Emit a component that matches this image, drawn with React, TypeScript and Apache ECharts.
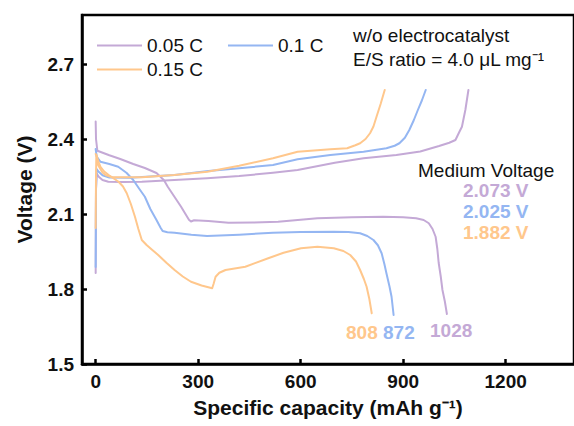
import React, { useEffect, useRef } from "react";
import * as echarts from "echarts";

const FONT = "'Liberation Sans', Arial, Helvetica, sans-serif";

const PURPLE = "#C4A9D6";
const BLUE = "#94B6F2";
const ORANGE = "#FFC78C";

const rateNames = ["0.05 C", "0.1 C", "0.15 C"];
const xTicks = [0, 300, 600, 900, 1200];
const yTicks = [1.5, 1.8, 2.1, 2.4, 2.7];
const capacityLabels = ["808", "872", "1028"];
const mediumVoltages = ["2.073 V", "2.025 V", "1.882 V"];

// [specific capacity (mAh g^-1), voltage (V)]
const discharge005 = [
  [0, 2.47], [1, 2.4], [5, 2.353], [40, 2.335], [72, 2.32], [110, 2.3], [144, 2.284], [178, 2.264],
  [200, 2.235], [211, 2.209], [230, 2.17], [250, 2.129], [265, 2.095], [273, 2.077], [279, 2.07],
  [288, 2.075], [330, 2.072], [389, 2.065], [460, 2.066], [534, 2.069], [649, 2.083], [750, 2.087],
  [842, 2.089], [900, 2.087], [938, 2.083], [960, 2.076], [975, 2.063], [986, 2.04], [995, 2.009],
  [1000, 1.96], [1004, 1.904], [1010, 1.85], [1015, 1.796], [1022, 1.75], [1028, 1.7],
];
const charge005 = [
  [0, 1.864], [1, 2.2], [3, 2.262], [9, 2.249], [20, 2.236], [37, 2.229], [80, 2.228], [135, 2.229],
  [230, 2.236], [326, 2.243], [420, 2.252], [519, 2.265], [591, 2.276], [700, 2.305], [784, 2.323],
  [880, 2.336], [950, 2.35], [1005, 2.372], [1035, 2.385], [1053, 2.396], [1065, 2.43], [1072, 2.449],
  [1082, 2.516], [1091, 2.596],
];
const discharge01 = [
  [0, 2.36], [3, 2.33], [14, 2.309], [40, 2.3], [66, 2.289], [90, 2.265], [110, 2.236], [128, 2.2],
  [144, 2.169], [160, 2.12], [178, 2.076], [190, 2.045], [196, 2.032], [210, 2.027], [231, 2.025],
  [280, 2.017], [326, 2.012], [420, 2.017], [519, 2.025], [600, 2.028], [697, 2.029], [740, 2.028],
  [774, 2.023], [795, 2.012], [813, 1.996], [826, 1.975], [837, 1.943], [845, 1.9], [851, 1.863],
  [860, 1.81], [866, 1.769], [872, 1.696],
];
const charge01 = [
  [0, 1.888], [1, 2.2], [3, 2.28], [8, 2.27], [20, 2.255], [40, 2.246], [100, 2.245], [231, 2.256],
  [330, 2.272], [420, 2.283], [519, 2.296], [591, 2.319], [687, 2.336], [784, 2.349], [851, 2.363],
  [875, 2.373], [889, 2.383], [905, 2.405], [918, 2.436], [931, 2.475], [943, 2.516], [955, 2.555],
  [966, 2.596],
];
const discharge015 = [
  [0, 2.34], [2, 2.336], [8, 2.31], [14, 2.289], [25, 2.27], [38, 2.256], [67, 2.229], [80, 2.21],
  [91, 2.183], [103, 2.14], [115, 2.089], [125, 2.04], [135, 1.996], [149, 1.976], [165, 1.957],
  [183, 1.936], [207, 1.905], [231, 1.876], [255, 1.85], [279, 1.829], [310, 1.814], [341, 1.803],
  [345, 1.82], [351, 1.849], [362, 1.865], [380, 1.876], [438, 1.889], [505, 1.923], [550, 1.945],
  [601, 1.963], [649, 1.969], [697, 1.963], [725, 1.952], [745, 1.936], [762, 1.91], [774, 1.876],
  [785, 1.84], [793, 1.809], [801, 1.76], [808, 1.703],
];
const charge015 = [
  [0, 2.044], [1, 2.25], [2, 2.336], [6, 2.3], [10, 2.289], [20, 2.266], [29, 2.256], [48, 2.247],
  [135, 2.247], [230, 2.256], [327, 2.269], [420, 2.293], [519, 2.323], [591, 2.349], [687, 2.359],
  [736, 2.363], [760, 2.375], [774, 2.383], [790, 2.4], [803, 2.423], [813, 2.45], [822, 2.489],
  [834, 2.54], [846, 2.596],
];

function lineSeries(name: string, color: string, data: number[][]) {
  return {
    type: "line",
    name,
    data,
    showSymbol: false,
    symbol: "none",
    smooth: false,
    clip: true,
    lineStyle: { color, width: 2, join: "round", cap: "round" },
    itemStyle: { color },
    emphasis: { disabled: true },
  };
}

export default function App() {
  const ref = useRef<HTMLDivElement>(null);
  useEffect(() => {
    if (!ref.current) return;
    const chart = echarts.init(ref.current, undefined, { renderer: "svg" });
    const label = (text: string, x: number, y: number, color: string, bold: boolean, align = "left") => ({
      type: "text",
      x,
      y,
      style: {
        text,
        fill: color,
        font: `${bold ? "bold " : ""}19px ${FONT}`,
        textAlign: align,
        textVerticalAlign: "middle",
      },
    });
    chart.setOption({
      animation: false,
      backgroundColor: "#fff",
      grid: {
        left: 82,
        top: 15,
        width: 498,
        height: 349,
        show: true,
        borderColor: "#000",
        borderWidth: 2.5,
        containLabel: false,
      },
      legend: [
        {
          data: [rateNames[0], rateNames[1]],
          left: 92,
          top: 31,
          itemWidth: 45,
          itemHeight: 14,
          itemGap: 25,
          icon: "path://M0,6 L45,6 L45,8 L0,8 Z",
          textStyle: { fontSize: 19, fontFamily: FONT, color: "#111" },
          selectedMode: false,
        },
        {
          data: [rateNames[2]],
          left: 92,
          top: 55,
          itemWidth: 45,
          itemHeight: 14,
          icon: "path://M0,6 L45,6 L45,8 L0,8 Z",
          textStyle: { fontSize: 19, fontFamily: FONT, color: "#111" },
          selectedMode: false,
        },
      ],
      xAxis: {
        type: "value",
        min: -40,
        max: 1400,
        name: "Specific capacity (mAh g\u207B\u00B9)",
        nameLocation: "middle",
        nameGap: 33,
        nameTextStyle: { fontSize: 21, fontWeight: "bold", fontFamily: FONT, color: "#111" },
        axisLine: { show: true, onZero: false, lineStyle: { color: "#000", width: 2.5 } },
        axisTick: { show: true, inside: true, length: 5, lineStyle: { color: "#000", width: 2.5 }, customValues: xTicks },
        axisLabel: {
          fontSize: 19,
          fontWeight: "bold",
          fontFamily: FONT,
          color: "#111",
          margin: 8,
          customValues: xTicks,
          formatter: (v: number) => String(Math.round(v)),
        },
        splitLine: { show: false },
      },
      yAxis: {
        type: "value",
        min: 1.5,
        max: 2.896,
        name: "Voltage (V)",
        nameLocation: "middle",
        nameGap: 47,
        nameTextStyle: { fontSize: 21, fontWeight: "bold", fontFamily: FONT, color: "#111" },
        axisLine: { show: true, onZero: false, lineStyle: { color: "#000", width: 2.5 } },
        axisTick: { show: true, inside: true, length: 5, lineStyle: { color: "#000", width: 2.5 }, customValues: yTicks },
        axisLabel: {
          fontSize: 19,
          fontWeight: "bold",
          fontFamily: FONT,
          color: "#111",
          margin: 8,
          customValues: yTicks,
          formatter: (v: number) => v.toFixed(1),
        },
        splitLine: { show: false },
      },
      series: [
        lineSeries(rateNames[0], PURPLE, discharge005),
        lineSeries(rateNames[0], PURPLE, charge005),
        lineSeries(rateNames[1], BLUE, discharge01),
        lineSeries(rateNames[1], BLUE, charge01),
        lineSeries(rateNames[2], ORANGE, discharge015),
        lineSeries(rateNames[2], ORANGE, charge015),
      ],
      graphic: [
        label("w/o electrocatalyst", 353, 35, "#111", false),
        label("E/S ratio = 4.0 \u03BCL mg\u207B\u00B9", 353, 59, "#111", false),
        label("Medium Voltage", 418, 170, "#111", false),
        label(mediumVoltages[0], 463, 190, PURPLE, true),
        label(mediumVoltages[1], 463, 211, BLUE, true),
        label(mediumVoltages[2], 463, 232, ORANGE, true),
        label(capacityLabels[0], 346, 332, ORANGE, true),
        label(capacityLabels[1], 383, 332, BLUE, true),
        label(capacityLabels[2], 430, 330, PURPLE, true),
      ],
    });
    return () => chart.dispose();
  }, []);
  return (
    <div
      ref={ref}
      style={{ position: "fixed", left: 0, top: 0, width: 574, height: 426, background: "#fff" }}
    />
  );
}
